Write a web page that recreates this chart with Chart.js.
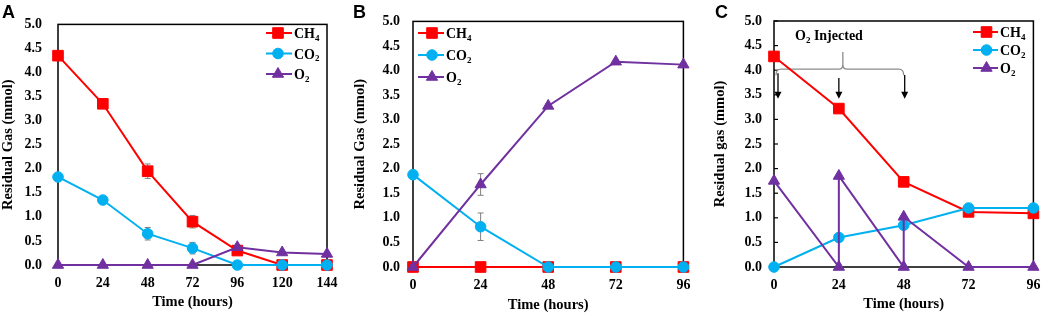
<!DOCTYPE html>
<html><head><meta charset="utf-8">
<script src="https://cdn.jsdelivr.net/npm/chart.js@4.4.0/dist/chart.umd.min.js"></script>
<style>
html,body{margin:0;padding:0;background:#fff;}
#wrap{position:relative;width:1050px;height:316px;overflow:hidden;}
.panel{position:absolute;top:0;width:350px;height:316px;}
</style></head><body>
<div id="wrap">
<div class="panel" style="left:0"><canvas id="cA" width="350" height="316"></canvas></div>
<div class="panel" style="left:350px"><canvas id="cB" width="350" height="316"></canvas></div>
<div class="panel" style="left:700px"><canvas id="cC" width="350" height="316"></canvas></div>
</div>
<script>
// ---------- DATA ----------
const hoursA = [0, 24, 48, 72, 96, 120, 144];
const ch4A = [4.35, 3.35, 1.95, 0.90, 0.30, 0.00, 0.00];
const co2A = [1.83, 1.35, 0.65, 0.35, 0.00, 0.00, 0.00];
const o2A  = [0.00, 0.00, 0.00, 0.00, 0.37, 0.26, 0.23];
const ch4AErr = [0.03, 0.05, 0.15, 0.13, 0.03, 0.00, 0.00];
const co2AErr = [0.03, 0.05, 0.13, 0.12, 0.00, 0.00, 0.00];
const o2AErr  = [0.00, 0.00, 0.00, 0.00, 0.03, 0.02, 0.02];

const hoursB = [0, 24, 48, 72, 96];
const ch4B = [0.00, 0.00, 0.00, 0.00, 0.00];
const co2B = [1.88, 0.82, 0.00, 0.00, 0.00];
const o2B  = [0.00, 1.68, 3.28, 4.18, 4.12];
const ch4BErr = [0, 0, 0, 0, 0];
const co2BErr = [0.02, 0.28, 0, 0, 0];
const o2BErr  = [0, 0.22, 0.03, 0.03, 0.03];

const hoursC = [0, 24, 48, 72, 96];
const ch4C = [4.28, 3.22, 1.73, 1.12, 1.09];
const co2C = [0.00, 0.60, 0.85, 1.20, 1.20];
const o2HoursC = [0, 24, 24, 48, 48, 72, 96];
const o2C = [1.75, 0.00, 1.85, 0.00, 1.02, 0.00, 0.00];

const seriesLabels = ['CH₄', 'CO₂', 'O₂'];
const yTickValues = [0, 0.5, 1, 1.5, 2, 2.5, 3, 3.5, 4, 4.5, 5];
const xTicksA = [0, 24, 48, 72, 96, 120, 144];
const xTicksBC = [0, 24, 48, 72, 96];
const panelLetters = ['A', 'B', 'C'];
const yTitles = ['Residual Gas (mmol)', 'Residual Gas (mmol)', 'Residual gas (mmol)'];
const xTitle = 'Time (hours)';
const injectLabel = 'O₂ Injected';
const injectHours = [0, 24, 48];

// ---------- STYLE ----------
const SERIF = "'Liberation Serif','Times New Roman',serif";
const SANS = "'Liberation Sans',Arial,sans-serif";
const COLORS = ['#FF0000', '#00B0F0', '#7030A0'];
const STYLES = ['rect', 'circle', 'triangle'];
const RADII = [7.5, 5.3, 6.5];

function pts(xs, ys) { return xs.map((v, i) => ({x: v, y: ys[i]})); }

function makeDatasets(series) {
  return series.map((d, i) => ({
    label: seriesLabels[i],
    data: d,
    borderColor: COLORS[i],
    backgroundColor: COLORS[i],
    borderWidth: 2,
    pointStyle: STYLES[i],
    pointRadius: RADII[i],
    pointHoverRadius: RADII[i],
    pointBorderWidth: 1,
    tension: 0,
    clip: false,
    order: 2 - i
  }));
}

function drawMarker(ctx, style, r, x, y, color) {
  ctx.save();
  ctx.fillStyle = color; ctx.strokeStyle = color; ctx.lineWidth = 1;
  ctx.beginPath();
  if (style === 'rect') {
    const s = Math.SQRT1_2 * r;
    ctx.rect(x - s, y - s, 2 * s, 2 * s);
  } else if (style === 'circle') {
    ctx.arc(x, y, r, 0, Math.PI * 2);
  } else {
    let rad = 0;
    const pts3 = [];
    for (let k = 0; k < 3; k++) {
      pts3.push([x + Math.sin(rad) * r, y - Math.cos(rad) * r]);
      rad += 2 * Math.PI / 3;
    }
    ctx.moveTo(pts3[0][0], pts3[0][1]);
    ctx.lineTo(pts3[1][0], pts3[1][1]);
    ctx.lineTo(pts3[2][0], pts3[2][1]);
    ctx.closePath();
  }
  ctx.fill(); ctx.stroke();
  ctx.restore();
}

function drawRich(ctx, text, x, y, size) {
  const subs = '₀₁₂₃₄₅₆₇₈₉';
  let cx = x;
  for (const ch of text) {
    const k = subs.indexOf(ch);
    if (k >= 0) {
      ctx.font = 'bold ' + Math.round(size * 0.62) + 'px ' + SERIF;
      ctx.fillText(String(k), cx, y + size * 0.2);
      cx += ctx.measureText(String(k)).width;
    } else {
      ctx.font = 'bold ' + size + 'px ' + SERIF;
      ctx.fillText(ch, cx, y);
      cx += ctx.measureText(ch).width;
    }
  }
}

function panelPlugin(cfg) {
  return {
    id: 'panel' + cfg.letter,
    beforeDatasetsDraw(chart) {
      const {ctx, chartArea: a, scales: {x, y}} = chart;
      ctx.save();
      ctx.strokeStyle = '#000'; ctx.lineWidth = 1.5;
      ctx.strokeRect(a.left, a.top, a.right - a.left, a.bottom - a.top);
      if (cfg.innerTicks) {
        ctx.lineWidth = 1.2;
        yTickValues.forEach(v => {
          const py = y.getPixelForValue(v);
          ctx.beginPath(); ctx.moveTo(a.left, py); ctx.lineTo(a.left + 4, py); ctx.stroke();
        });
      }
      // error bars
      ctx.strokeStyle = '#808080'; ctx.lineWidth = 1;
      cfg.errors.forEach((errs, di) => {
        const ds = chart.data.datasets[di];
        ds.data.forEach((p, i) => {
          const e = errs[i];
          if (!e) return;
          const px = x.getPixelForValue(p.x);
          const y1 = y.getPixelForValue(p.y + e), y2 = y.getPixelForValue(Math.max(0, p.y - e));
          ctx.beginPath();
          ctx.moveTo(px, y1); ctx.lineTo(px, y2);
          ctx.moveTo(px - 3, y1); ctx.lineTo(px + 3, y1);
          ctx.moveTo(px - 3, y2); ctx.lineTo(px + 3, y2);
          ctx.stroke();
        });
      });
      // O2 injection annotation
      if (cfg.inject) {
        const xs = injectHours.map(h => x.getPixelForValue(h));
        const yB = y.getPixelForValue(4.02);
        const yTop = y.getPixelForValue(4.37);
        const xL = xs[0] + 2, xM = xs[1] + 4, xR = xs[2];
        ctx.strokeStyle = '#8c8c8c'; ctx.lineWidth = 1.3;
        ctx.beginPath();
        ctx.moveTo(xL, yB + 6);
        ctx.quadraticCurveTo(xL, yB, xL + 5, yB);
        ctx.lineTo(xM - 4, yB);
        ctx.quadraticCurveTo(xM, yB, xM, yB - 5);
        ctx.lineTo(xM, yTop);
        ctx.moveTo(xM, yB - 5);
        ctx.quadraticCurveTo(xM, yB, xM + 4, yB);
        ctx.lineTo(xR - 5, yB);
        ctx.quadraticCurveTo(xR, yB, xR, yB + 6);
        ctx.stroke();
        // arrows
        const starts = [3.94, 3.84, 3.90];
        const offs = [4, 0, 1];
        const yEnd = y.getPixelForValue(3.42);
        ctx.strokeStyle = '#000'; ctx.fillStyle = '#000'; ctx.lineWidth = 1.3;
        xs.forEach((px0, i) => {
          const px = px0 + offs[i];
          const ys = y.getPixelForValue(starts[i]);
          ctx.beginPath(); ctx.moveTo(px, ys); ctx.lineTo(px, yEnd - 5); ctx.stroke();
          ctx.beginPath(); ctx.moveTo(px - 3.5, yEnd - 7); ctx.lineTo(px + 3.5, yEnd - 7); ctx.lineTo(px, yEnd); ctx.closePath(); ctx.fill();
        });
        ctx.fillStyle = '#000'; ctx.textBaseline = 'alphabetic';
        drawRich(ctx, injectLabel, a.left + 21, a.top + 19, 14);
      }
      ctx.restore();
    },
    afterDraw(chart) {
      const {ctx} = chart;
      ctx.save();
      ctx.fillStyle = '#000';
      ctx.font = 'bold 18px ' + SANS;
      ctx.textBaseline = 'alphabetic';
      ctx.fillText(cfg.letter, cfg.letterX, 18);
      // legend
      const L = cfg.legend;
      seriesLabels.forEach((lab, i) => {
        const ly = L.y + i * L.dy;
        ctx.strokeStyle = COLORS[i]; ctx.lineWidth = 2;
        ctx.beginPath(); ctx.moveTo(L.x, ly); ctx.lineTo(L.x + L.len, ly); ctx.stroke();
        drawMarker(ctx, STYLES[i], RADII[i], L.x + L.len / 2 + L.mOff, ly, COLORS[i]);
        ctx.fillStyle = '#000';
        drawRich(ctx, lab, L.x + L.len + 2, ly + 5, 14);
      });
      ctx.restore();
    }
  };
}

function makeChart(id, datasets, xTicks, yTitle, geo, plugin) {
  const tickFont = {family: SERIF, size: 14, weight: 'bold'};
  return new Chart(document.getElementById(id), {
    type: 'line',
    data: {datasets},
    options: {
      responsive: false, animation: false, events: [],
      layout: {padding: {left: 0, right: geo.padR, top: 21, bottom: 0}},
      plugins: {legend: {display: false}, tooltip: {enabled: false}},
      scales: {
        x: {
          type: 'linear', min: xTicks[0], max: xTicks[xTicks.length - 1],
          afterBuildTicks: s => { s.ticks = xTicks.map(v => ({value: v})); },
          grid: {display: false, drawTicks: false}, border: {display: false},
          ticks: {padding: geo.xTickPad, color: '#000', font: tickFont, maxRotation: 0, autoSkip: false, callback: v => String(v)},
          title: {display: true, text: xTitle, color: '#000', font: {family: SERIF, size: 14.5, weight: 'bold'}, padding: {top: 0, bottom: geo.xTitlePad}},
          afterFit: s => { s.height = geo.xAxisH; }
        },
        y: {
          type: 'linear', min: 0, max: 5,
          afterBuildTicks: s => { s.ticks = yTickValues.map(v => ({value: v})); },
          grid: {display: false, drawTicks: false}, border: {display: false},
          ticks: {padding: geo.yTickPad, color: '#000', font: tickFont, callback: v => Number(v).toFixed(1)},
          title: {display: true, text: yTitle, color: '#000', font: {family: SERIF, size: 14.5, weight: 'bold'}, padding: {top: geo.yTitlePad, bottom: 0}},
          afterFit: s => { s.width = geo.yAxisW; }
        }
      }
    },
    plugins: [plugin]
  });
}

makeChart('cA',
  makeDatasets([pts(hoursA, ch4A), pts(hoursA, co2A), pts(hoursA, o2A)]),
  xTicksA, yTitles[0],
  {padR: 23, yAxisW: 58, xAxisH: 51, yTickPad: 16, xTickPad: 9.6, yTitlePad: 0, xTitlePad: 4.6},
  panelPlugin({letter: panelLetters[0], letterX: 2, errors: [ch4AErr, co2AErr, o2AErr],
    legend: {x: 266, y: 33, dy: 20.5, len: 26, mOff: -1}}));

makeChart('cB',
  makeDatasets([pts(hoursB, ch4B), pts(hoursB, co2B), pts(hoursB, o2B)]),
  xTicksBC, yTitles[1],
  {padR: 12, yAxisW: 63, xAxisH: 49, yTickPad: 13, xTickPad: 9.6, yTitlePad: 1.6, xTitlePad: 1.6},
  panelPlugin({letter: panelLetters[1], letterX: 3, errors: [ch4BErr, co2BErr, o2BErr],
    legend: {x: 68, y: 33, dy: 22, len: 26, mOff: 1}}));

makeChart('cC',
  makeDatasets([pts(hoursC, ch4C), pts(hoursC, co2C), pts(o2HoursC, o2C)]),
  xTicksBC, yTitles[2],
  {padR: 10, yAxisW: 74, xAxisH: 49, yTickPad: 12, xTickPad: 9.6, yTitlePad: 11.6, xTitlePad: 2.6},
  panelPlugin({letter: panelLetters[2], letterX: 15, errors: [[], [], []], innerTicks: true, inject: true,
    legend: {x: 273, y: 32, dy: 18, len: 25, mOff: 1}}));
</script>
</body></html>
